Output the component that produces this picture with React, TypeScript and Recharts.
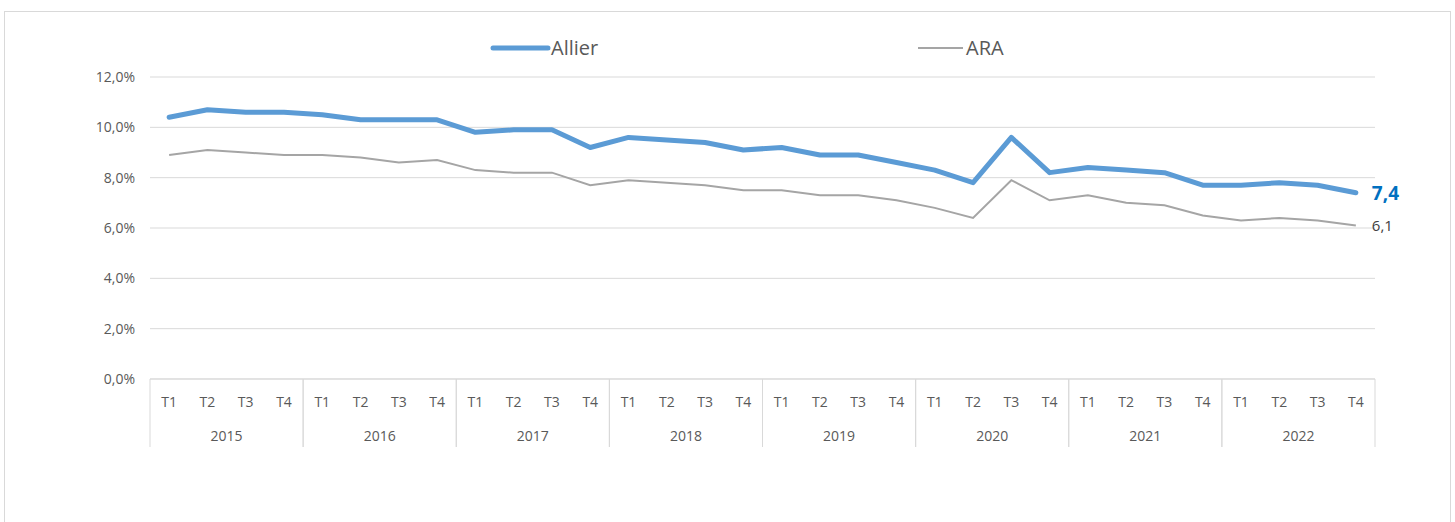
import React from 'react';
import { LineChart, Line, XAxis, YAxis, CartesianGrid, Legend } from 'recharts';

// Taux de chômage trimestriel, Allier vs ARA
const years = ['2015', '2016', '2017', '2018', '2019', '2020', '2021', '2022'];
const quarters = ['T1', 'T2', 'T3', 'T4'];

const allier = [
  10.4, 10.7, 10.6, 10.6,
  10.5, 10.3, 10.3, 10.3,
  9.8, 9.9, 9.9, 9.2,
  9.6, 9.5, 9.4, 9.1,
  9.2, 8.9, 8.9, 8.6,
  8.3, 7.8, 9.6, 8.2,
  8.4, 8.3, 8.2, 7.7,
  7.7, 7.8, 7.7, 7.4,
];

const ara = [
  8.9, 9.1, 9.0, 8.9,
  8.9, 8.8, 8.6, 8.7,
  8.3, 8.2, 8.2, 7.7,
  7.9, 7.8, 7.7, 7.5,
  7.5, 7.3, 7.3, 7.1,
  6.8, 6.4, 7.9, 7.1,
  7.3, 7.0, 6.9, 6.5,
  6.3, 6.4, 6.3, 6.1,
];

const yTicks = [0, 2, 4, 6, 8, 10, 12];

const data = years.flatMap((year, yi) =>
  quarters.map((q, qi) => {
    const i = yi * 4 + qi;
    return { key: `${year}-${q}`, year, q, allier: allier[i], ara: ara[i] };
  })
);

const FONT = '"Open Sans", "DejaVu Sans Condensed", sans-serif';
const TEXT = '#595959';
const GRID = '#d9d9d9';
const STEP = 1225 / 32;

const fmtPct = (v: number) => v.toFixed(1).replace('.', ',') + '%';

const QuarterTick = (props: any) => {
  const { x, y, payload } = props;
  const i = payload.index;
  const row = data[i];
  if (!row) return null;
  return (
    <g>
      <text x={x} y={y + 28} textAnchor="middle" fill={TEXT} fontSize={14} fontFamily={FONT}>
        {row.q}
      </text>
      {row.q === 'T1' && (
        <line x1={x - STEP / 2} x2={x - STEP / 2} y1={y} y2={y + 68} stroke={GRID} />
      )}
      {row.q === 'T4' && (
        <line x1={x + STEP / 2} x2={x + STEP / 2} y1={y} y2={y + 68} stroke={GRID} />
      )}
      {row.q === 'T2' && (
        <text x={x + STEP / 2} y={y + 62} textAnchor="middle" fill={TEXT} fontSize={14} fontFamily={FONT}>
          {row.year}
        </text>
      )}
    </g>
  );
};

const LastLabel = (color: string, size: number, bold: boolean, dy: number) => (props: any) => {
  const { x, y, index, value } = props;
  if (index !== data.length - 1) return null;
  return (
    <text
      x={x + 16}
      y={y + dy}
      fill={color}
      fontSize={size}
      fontWeight={bold ? 'bold' : 'normal'}
      fontFamily={FONT}
    >
      {String(value).replace('.', ',')}
    </text>
  );
};

const renderLegend = () => (
  <svg width={1455} height={30} style={{ display: 'block' }}>
    <line x1={493} x2={548} y1={15} y2={15} stroke="#5B9BD5" strokeWidth={5} strokeLinecap="round" />
    <text x={551} y={22} fill={TEXT} fontSize={20} fontFamily={FONT}>Allier</text>
    <line x1={918} x2={963} y1={15} y2={15} stroke="#A5A5A5" strokeWidth={2} />
    <text x={966} y={22} fill={TEXT} fontSize={20} fontFamily={FONT}>ARA</text>
  </svg>
);

export default function App() {
  return (
    <div style={{ position: 'absolute', left: 0, top: 0, width: 1455, height: 522, overflow: 'hidden', background: '#fff' }}>
      <div
        style={{
          position: 'absolute',
          left: 4,
          top: 11,
          width: 1445,
          height: 530,
          border: '1px solid #d9d9d9',
        }}
      />
      <div style={{ position: 'absolute', left: 0, top: 0 }}>
        <LineChart
          width={1455}
          height={522}
          data={data}
          margin={{ top: 47, right: 80, bottom: 73, left: 90 }}
        >
          <CartesianGrid vertical={false} stroke={GRID} />
          <XAxis
            dataKey="key"
            interval={0}
            tick={<QuarterTick />}
            tickLine={false}
            axisLine={{ stroke: GRID }}
            tickSize={0}
            tickMargin={0}
            padding={{ left: STEP / 2, right: STEP / 2 }}
            height={70}
          />
          <YAxis
            domain={[0, 12]}
            ticks={yTicks}
            tickFormatter={fmtPct}
            axisLine={false}
            tickLine={false}
            tickSize={0}
            tickMargin={15}
            width={60}
            tick={{ fill: TEXT, fontSize: 14, fontFamily: FONT }}
          />
          <Legend verticalAlign="top" content={renderLegend} wrapperStyle={{ top: 33, left: 0, width: 1455 }} />
          <Line
            type="linear"
            dataKey="ara"
            name="ARA"
            stroke="#A5A5A5"
            strokeWidth={2}
            dot={false}
            isAnimationActive={false}
            label={LastLabel('#404040', 15, false, 6)}
          />
          <Line
            type="linear"
            dataKey="allier"
            name="Allier"
            stroke="#5B9BD5"
            strokeWidth={5}
            strokeLinecap="round"
            strokeLinejoin="round"
            dot={false}
            isAnimationActive={false}
            label={LastLabel('#0070C0', 19, true, 7)}
          />
        </LineChart>
      </div>
    </div>
  );
}
